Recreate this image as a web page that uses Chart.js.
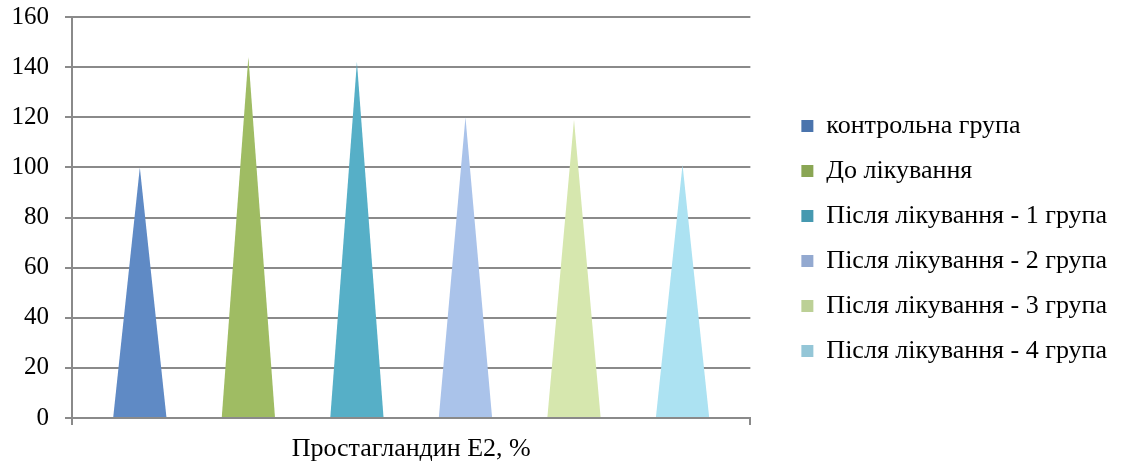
<!DOCTYPE html>
<html>
<head>
<meta charset="utf-8">
<script src="https://cdn.jsdelivr.net/npm/chart.js@4"></script>
<style>
  body { margin: 0; background: #fff; }
</style>
</head>
<body>
<canvas id="coneChart" width="1122" height="465"></canvas>
<script>
const categories = ['Простагландин E2, %'];
const seriesNames = [
    'контрольна група',
    'До лікування',
    'Після лікування - 1 група',
    'Після лікування - 2 група',
    'Після лікування - 3 група',
    'Після лікування - 4 група'
];
const seriesValues = [100, 144, 142, 120, 119, 101];
const coneColors = ['#5f8ac5', '#9fbc63', '#56afc7', '#aac3ea', '#d6e7ae', '#ace2f2'];
const legendColors = ['#4a74ad', '#8aa654', '#4699b0', '#93a9d0', '#bcd096', '#94c6d7'];
const yMax = 160;
const yStep = 20;

const serif = 'Liberation Serif';
const gridColor = '#8a8a8a';

// bars are invisible, this draws a triangle in each bar's box
const conePlugin = {
    id: 'cones',
    afterDatasetsDraw(chart) {
        const ctx = chart.ctx;
        chart.data.datasets.forEach((ds, i) => {
            const meta = chart.getDatasetMeta(i);
            meta.data.forEach(bar => {
                const { x, y, base, width } = bar.getProps(['x', 'y', 'base', 'width'], true);
                ctx.save();
                ctx.beginPath();
                ctx.moveTo(x - width / 2, base);
                ctx.lineTo(x, y);
                ctx.lineTo(x + width / 2, base);
                ctx.closePath();
                ctx.fillStyle = coneColors[i];
                ctx.fill();
                ctx.restore();
            });
        });
    }
};

const datasets = seriesNames.map((name, i) => ({
    label: name,
    data: [seriesValues[i]],
    backgroundColor: 'rgba(0,0,0,0)',
    borderWidth: 0,
    categoryPercentage: 0.96,
    barPercentage: 0.49,
    yAxisID: 'y'
}));

new Chart(document.getElementById('coneChart'), {
    type: 'bar',
    data: { labels: categories, datasets: datasets },
    plugins: [conePlugin],
    options: {
        responsive: false,
        animation: false,
        layout: { padding: { left: 8, right: 5, top: 0, bottom: 0 } },
        plugins: {
            tooltip: { enabled: false },
            legend: {
                position: 'right',
                maxWidth: 420,
                title: { display: true, text: '', padding: 0, font: { size: 10 } },
                labels: {
                    boxWidth: 12,
                    boxHeight: 12,
                    padding: 19,
                    color: '#000',
                    font: { family: serif, size: 26 },
                    generateLabels: () => seriesNames.map((n, i) => ({
                        text: n,
                        fillStyle: legendColors[i],
                        strokeStyle: legendColors[i],
                        fontColor: '#000',
                        lineWidth: 0,
                        hidden: false,
                        datasetIndex: i
                    }))
                }
            }
        },
        scales: {
            x: {
                grid: { display: true, drawOnChartArea: false, tickLength: 7, color: gridColor, lineWidth: 2 },
                border: { color: gridColor, width: 2 },
                ticks: { color: '#000', font: { family: serif, size: 26 }, padding: 9 },
                afterFit(scale) { scale.height = 47; }
            },
            y: {
                min: 0,
                max: yMax,
                ticks: { stepSize: yStep, color: '#000', font: { family: serif, size: 25 }, padding: 16 },
                grid: { color: gridColor, lineWidth: 2, tickLength: 7 },
                border: { color: gridColor, width: 2 },
                afterFit(scale) {
                    scale.width = 64;
                    scale.paddingTop = 17;
                }
            },
            // empty axis on the right, keeps a gap before the legend
            gap: {
                position: 'right',
                display: true,
                grid: { display: false },
                border: { display: false },
                ticks: { display: false },
                afterFit(scale) { scale.width = 32; }
            }
        }
    }
});
</script>
</body>
</html>
